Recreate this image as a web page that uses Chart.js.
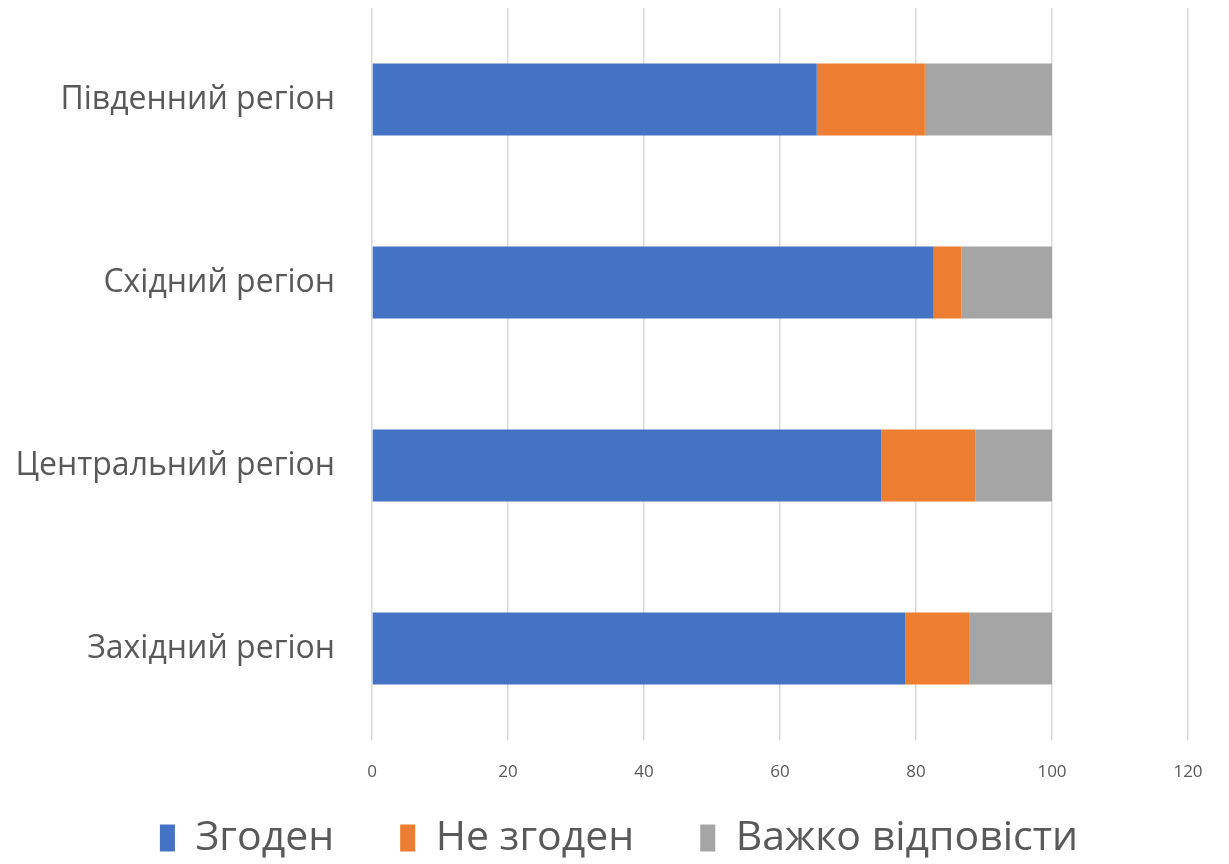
<!DOCTYPE html>
<html><head><meta charset="utf-8">
<script src="https://cdn.jsdelivr.net/npm/chart.js@4/dist/chart.umd.min.js"></script>
<style>html,body{margin:0;padding:0;background:#fff}#wrap{width:1229px;height:864px}</style>
</head><body><div id="wrap"><canvas id="c" width="1229" height="864"></canvas></div>
<script>
const categories = ["Південний регіон", "Східний регіон", "Центральний регіон", "Західний регіон"];
const agree = [65.4, 82.6, 74.9, 78.4];
const disagree = [15.9, 4.1, 13.8, 9.4];
const hard = [18.7, 13.3, 11.3, 12.2];
const seriesNames = ["Згоден", "Не згоден", "Важко відповісти"];
const colors = ["#4472C4", "#ED7D31", "#A5A5A5"];
const FONT = "'Open Sans', 'Noto Sans', sans-serif";
const LEGEND_FONT = 41, LEGEND_PAD = 66, LEGEND_H = 79, LEGEND_TEXT_Y = 838, LEGEND_DX = 25;

// Decouple legend vertical size from the horizontal item spacing.
const legendFix = {
  id: 'legendFix',
  beforeLayout(chart) {
    const lg = chart.legend;
    if (lg && !lg._patched) {
      const f = lg.fit, d = lg.draw;
      lg.fit = function () { f.call(this); this.height = LEGEND_H; };
      lg.draw = function () {
        const t = this.top;
        this.top = LEGEND_TEXT_Y - LEGEND_FONT / 2 - LEGEND_PAD;
        this.ctx.save();
        this.ctx.translate(LEGEND_DX, 0);
        d.call(this);
        this.ctx.restore();
        this.top = t;
      };
      lg._patched = true;
    }
  }
};

new Chart(document.getElementById('c'), {
  type: 'bar',
  data: {
    labels: categories,
    datasets: [
      {label: seriesNames[0], data: agree, backgroundColor: colors[0]},
      {label: seriesNames[1], data: disagree, backgroundColor: colors[1]},
      {label: seriesNames[2], data: hard, backgroundColor: colors[2]}
    ].map(d => Object.assign(d, {categoryPercentage: 1, barPercentage: 0.394, borderWidth: 0}))
  },
  plugins: [legendFix],
  options: {
    indexAxis: 'y',
    responsive: false,
    animation: false,
    layout: {padding: {top: 8, right: 41, left: 0, bottom: 0}},
    plugins: {
      tooltip: {enabled: false},
      legend: {
        position: 'bottom',
        labels: {
          font: {family: FONT, size: LEGEND_FONT},
          color: '#595959',
          boxWidth: 15, boxHeight: 27,
          padding: LEGEND_PAD
        }
      }
    },
    scales: {
      x: {
        stacked: true, min: 0, max: 120,
        ticks: {stepSize: 20, color: '#595959', font: {family: FONT, size: 17}, padding: 22},
        grid: {color: '#d9d9d9', lineWidth: 1.5, drawTicks: false},
        border: {display: false},
        afterFit: s => { s.height = 45; }
      },
      y: {
        stacked: true,
        ticks: {color: '#595959', font: {family: FONT, size: 32}, padding: 37},
        grid: {display: false, drawTicks: false},
        border: {display: false},
        afterFit: s => { s.width = 372; s.paddingTop = 0; s.paddingBottom = 0; }
      }
    }
  }
});
</script></body></html>
